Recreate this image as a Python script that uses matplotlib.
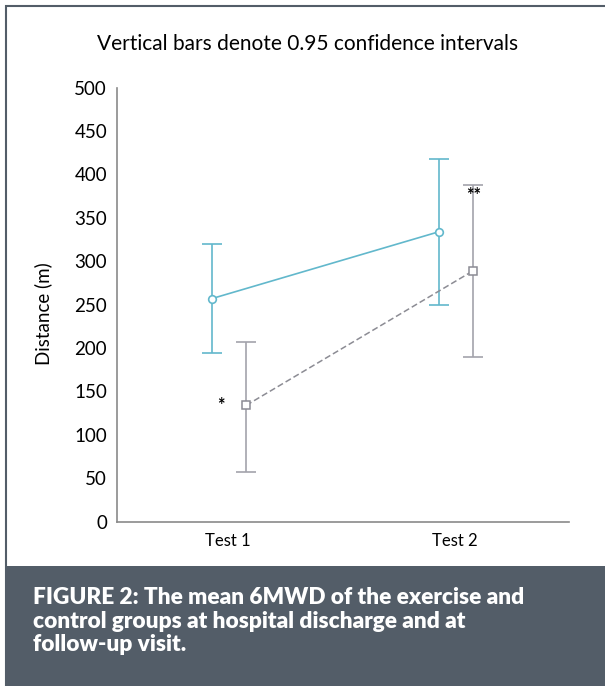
import matplotlib.pyplot as plt
from matplotlib.patches import Rectangle

# data
tests = ['Test 1', 'Test 2']
exercise_mean = [257, 334]
exercise_low = [194, 250]
exercise_high = [320, 418]
control_mean = [134, 289]
control_low = [57, 190]
control_high = [207, 388]
marks = ['*', '**']
caption = ['FIGURE 2: The mean 6MWD of the exercise and',
           'control groups at hospital discharge and at',
           'follow-up visit.']

teal = '#62b8cc'
grey = '#a3a3ab'
slate = '#535d68'

plt.rcParams['font.family'] = ['Lato', 'DejaVu Sans']

fig = plt.figure(figsize=(6.05, 6.86), dpi=100)
ax = fig.add_axes([0.193, 0.2395, 0.7475, 0.6329])

x = list(range(len(tests)))
xe = [i - 0.07 for i in x]
xc = [i + 0.08 for i in x]

err_e = [[m - l for m, l in zip(exercise_mean, exercise_low)],
         [h - m for m, h in zip(exercise_mean, exercise_high)]]
err_c = [[m - l for m, l in zip(control_mean, control_low)],
         [h - m for m, h in zip(control_mean, control_high)]]

ax.errorbar(xe, exercise_mean, yerr=err_e, color=teal, lw=1.2, capsize=7.5,
            capthick=1.2, marker='o', ms=5.5, mfc='white', mec=teal, mew=1.2, zorder=3)
ax.errorbar(xc, control_mean, yerr=err_c, color=grey, lw=1.2, capsize=7.5,
            capthick=1.2, fmt='none', zorder=2)
ax.plot(xc, control_mean, color='#8c8c94', lw=1.1, ls=(0, (4, 2)),
        marker='s', ms=5.5, mfc='white', mec='#8c8c94', mew=1.1, zorder=3)

# significance marks
ax.text(xc[0] - 0.11, control_mean[0], marks[0], ha='center', va='center',
        fontsize=13, fontweight='bold')
ax.text(xc[1], control_high[1] - 3, marks[1], ha='center', va='top',
        fontsize=13, fontweight='bold')

ax.set_xlim(-0.49, 1.502)
ax.set_ylim(0, 500)
ax.set_yticks(range(0, 501, 50))
ax.set_xticks(x)
ax.set_xticklabels(tests)
ax.tick_params(axis='x', length=0, labelsize=12, pad=8)
ax.tick_params(axis='y', length=0, labelsize=13.5, pad=7)
for s in ['top', 'right']:
    ax.spines[s].set_visible(False)
for s in ['left', 'bottom']:
    ax.spines[s].set_color('#8a8a8a')
    ax.spines[s].set_linewidth(1.2)
ax.set_ylabel('Distance (m)', fontsize=13.5)
ax.yaxis.set_label_coords(-0.142, 0.48)

fig.text(0.509, 1 - 50 / 686, 'Vertical bars denote 0.95 confidence intervals',
         ha='center', va='baseline', fontsize=15)

# frame and caption panel
fig.patches.append(Rectangle((6 / 605, 0), 1.2, 1 - 6 / 686, transform=fig.transFigure,
                             fill=False, edgecolor=slate, lw=1.5))
fig.patches.append(Rectangle((6 / 605, 0), 1.2, 120 / 686, transform=fig.transFigure,
                             facecolor=slate, edgecolor='none'))
for k, line in enumerate(caption):
    fig.text(33 / 605, 1 - (604 + 23.5 * k) / 686, line,
             ha='left', va='baseline', color='white', fontsize=16.3, fontweight='heavy')

fig.savefig('out.png', dpi=100, facecolor='white')
